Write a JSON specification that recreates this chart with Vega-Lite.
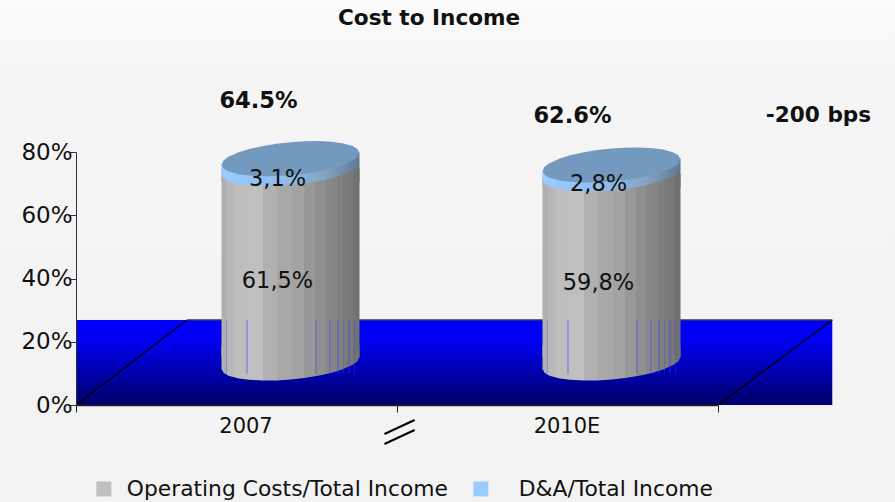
{
  "$schema": "https://vega.github.io/schema/vega-lite/v6.json",
  "width": 642,
  "height": 253,
  "autosize": "none",
  "padding": {"left": 76, "top": 152, "right": 177, "bottom": 97},
  "background": "#f3f3f3",
  "config": {"font": "DejaVu Sans", "view": {"stroke": null}},
  "datasets": {
    "costs": [
      {"period": "2007", "series": "Operating Costs/Total Income", "value": 61.5, "label": "61,5%"},
      {"period": "2007", "series": "D&A/Total Income", "value": 3.1, "label": "3,1%"},
      {"period": "2010E", "series": "Operating Costs/Total Income", "value": 59.8, "label": "59,8%"},
      {"period": "2010E", "series": "D&A/Total Income", "value": 2.8, "label": "2,8%"}
    ],
    "backdrop": [{"left": -0.237, "right": 2.551, "bottom": -30.67, "top": 128.06}],
    "heading": [{"x": 1.1, "level": 122.1, "text": "Cost to Income"}],
    "floor": [{"left": 0, "right": 2.356, "bottom": 0, "top": 26.9}],
    "floorEdges": [
      {"x": 0, "x2": 0.346, "y": 0, "y2": 26.9},
      {"x": 2, "x2": 2.356, "y": 0, "y2": 26.9}
    ],
    "floorBack": [{"x": 0.346, "x2": 2.356, "y": 26.9}],
    "axisBreak": [
      {"x": 0.961, "x2": 1.055, "y": -9.17, "y2": -4.74},
      {"x": 0.961, "x2": 1.055, "y": -12.33, "y2": -7.9}
    ],
    "seams": [
      {"period": "2007", "top": 26.9, "low": 10},
      {"period": "2010E", "top": 26.9, "low": 10}
    ],
    "totals": [
      {"period": "2007", "text": "64.5%", "level": 96},
      {"period": "2010E", "text": "62.6%", "level": 91.3}
    ],
    "delta": [{"period": "2010E", "text": "-200 bps", "level": 91.3}]
  },
  "resolve": {"scale": {"x": "independent"}},
  "layer": [
    {
      "layer": [
        {
          "data": {"name": "backdrop"},
          "mark": {
            "type": "rect",
            "fill": {
              "gradient": "linear", "x1": 0, "y1": 0, "x2": 0, "y2": 1,
              "stops": [
                {"offset": 0, "color": "#fbfbfb"},
                {"offset": 0.15, "color": "#f5f5f5"},
                {"offset": 1, "color": "#f2f2f2"}
              ]
            }
          },
          "encoding": {
            "x": {"field": "left", "type": "quantitative", "scale": {"domain": [0, 2]}, "axis": null},
            "x2": {"field": "right"},
            "y": {
              "field": "top", "type": "quantitative",
              "scale": {"domain": [0, 80]},
              "axis": {
                "title": null, "values": [0, 20, 40, 60, 80],
                "labelExpr": "datum.value + '%'",
                "grid": false, "zindex": 1,
                "domainColor": "#333333", "tickColor": "#333333",
                "tickSize": 7, "labelPadding": -3,
                "labelFontSize": 23, "labelColor": "#111111"
              }
            },
            "y2": {"field": "bottom"}
          }
        },
        {
          "data": {"name": "heading"},
          "mark": {"type": "text", "fontSize": 21.6, "fontWeight": "bold", "color": "#111111"},
          "encoding": {
            "x": {"field": "x", "type": "quantitative", "axis": null},
            "y": {"field": "level", "type": "quantitative"},
            "text": {"field": "text"}
          }
        },
        {
          "data": {"name": "floor"},
          "mark": {
            "type": "rect",
            "fill": {
              "gradient": "linear", "x1": 0, "y1": 0, "x2": 0, "y2": 1,
              "stops": [
                {"offset": 0, "color": "#0000ff"},
                {"offset": 0.25, "color": "#0000f0"},
                {"offset": 1, "color": "#000068"}
              ]
            }
          },
          "encoding": {
            "x": {"field": "left", "type": "quantitative", "axis": null},
            "x2": {"field": "right"},
            "y": {"field": "top", "type": "quantitative"},
            "y2": {"field": "bottom"}
          }
        },
        {
          "data": {"name": "floorEdges"},
          "mark": {"type": "rule", "color": "#000000", "strokeWidth": 1.2},
          "encoding": {
            "x": {"field": "x", "type": "quantitative", "axis": null},
            "x2": {"field": "x2"},
            "y": {"field": "y", "type": "quantitative"},
            "y2": {"field": "y2"}
          }
        },
        {
          "data": {"name": "floorBack"},
          "mark": {"type": "rule", "color": "#333355", "strokeWidth": 1.5},
          "encoding": {
            "x": {"field": "x", "type": "quantitative", "axis": null},
            "x2": {"field": "x2"},
            "y": {"field": "y", "type": "quantitative"}
          }
        },
        {
          "data": {"name": "axisBreak"},
          "mark": {"type": "rule", "color": "#000000", "strokeWidth": 2},
          "encoding": {
            "x": {"field": "x", "type": "quantitative", "axis": null},
            "x2": {"field": "x2"},
            "y": {"field": "y", "type": "quantitative"},
            "y2": {"field": "y2"}
          }
        }
      ]
    },
    {
      "encoding": {
        "x": {
          "field": "period", "type": "nominal",
          "scale": {"type": "band", "paddingInner": 0, "paddingOuter": 0, "domain": ["2007", "2010E"]},
          "axis": {
            "title": null, "labelAngle": 0, "tickBand": "extent", "zindex": 1,
            "domainColor": "#222222", "domainWidth": 1.5, "tickColor": "#222222", "tickSize": 7,
            "labelFontSize": 21, "labelPadding": 3, "labelColor": "#111111", "labelOffset": 9
          }
        }
      },
      "layer": [
        {
          "data": {"name": "costs"},
          "transform": [
            {"stack": "value", "groupby": ["period"], "sort": [{"field": "series", "order": "descending"}], "as": ["y0", "y1"]},
            {"calculate": "(datum.y0 + datum.y1) / 2", "as": "mid"}
          ],
          "layer": [
            {
              "mark": {"type": "bar", "size": 100, "xOffset": 54, "yOffset": -42, "y2Offset": -42},
              "encoding": {
                "y": {"field": "y1", "type": "quantitative"},
                "y2": {"field": "y0"},
                "color": {
                  "field": "series", "type": "nominal",
                  "scale": {"domain": ["Operating Costs/Total Income", "D&A/Total Income"], "range": ["#c0c0c0", "#99ccff"]},
                  "legend": {
                    "title": null, "orient": "none", "legendX": 17, "legendY": 326,
                    "direction": "horizontal", "columns": 2, "columnPadding": 22, "gridAlign": "none",
                    "symbolType": "square", "symbolSize": 225, "symbolStrokeWidth": 0, "labelOffset": 12,
                    "labelFontSize": 21.8, "labelColor": "#111111", "labelLimit": 400,
                    "encode": {"labels": {"update": {"dx": {"signal": "datum.value === 'D&A/Total Income' ? 15 : 0"}}}}
                  }
                }
              }
            },
            {
              "transform": [{"filter": "datum.series === 'Operating Costs/Total Income'"}],
              "mark": {
                "type": "point", "filled": true, "opacity": 1, "size": 19044, "xOffset": 54, "yOffset": -42,
                "shape": "M-1,.087L-.97,.026L-.9,-.027L-.75,-.094L-.6,-.14L-.4,-.185L-.2,-.218L0,-.24L.2,-.252L.4,-.255L.6,-.244L.75,-.224L.9,-.183L.97,-.142L1,-.087L.97,-.026L.9,.027L.75,.094L.6,.14L.4,.185L.2,.218L0,.24L-.2,.252L-.4,.255L-.6,.244L-.75,.224L-.9,.183L-.97,.142Z",
                "fill": {
                  "gradient": "linear", "x1": 0, "y1": 0, "x2": 1, "y2": 0,
                  "stops": [
                    {"offset": 0, "color": "#b0b0b0"}, {"offset": 0.04, "color": "#b0b0b0"},
                    {"offset": 0.04, "color": "#b8b8b8"}, {"offset": 0.1, "color": "#b8b8b8"},
                    {"offset": 0.1, "color": "#bdbdbd"}, {"offset": 0.19, "color": "#bdbdbd"},
                    {"offset": 0.19, "color": "#bfbfbf"}, {"offset": 0.3, "color": "#bfbfbf"},
                    {"offset": 0.3, "color": "#b0b0b0"}, {"offset": 0.4, "color": "#b0b0b0"},
                    {"offset": 0.4, "color": "#a8a8a8"}, {"offset": 0.51, "color": "#a8a8a8"},
                    {"offset": 0.51, "color": "#a3a3a3"}, {"offset": 0.6, "color": "#a3a3a3"},
                    {"offset": 0.6, "color": "#989898"}, {"offset": 0.68, "color": "#989898"},
                    {"offset": 0.68, "color": "#8f8f8f"}, {"offset": 0.75, "color": "#8f8f8f"},
                    {"offset": 0.75, "color": "#888888"}, {"offset": 0.8, "color": "#888888"},
                    {"offset": 0.8, "color": "#848484"}, {"offset": 0.84, "color": "#848484"},
                    {"offset": 0.84, "color": "#808080"}, {"offset": 0.88, "color": "#808080"},
                    {"offset": 0.88, "color": "#7c7c7c"}, {"offset": 0.91, "color": "#7c7c7c"},
                    {"offset": 0.91, "color": "#787878"}, {"offset": 0.95, "color": "#787878"},
                    {"offset": 0.95, "color": "#737373"}, {"offset": 1, "color": "#707070"}
                  ]
                }
              },
              "encoding": {"y": {"field": "y0", "type": "quantitative"}}
            },
            {
              "transform": [{"filter": "datum.series === 'Operating Costs/Total Income'"}],
              "mark": {
                "type": "bar", "size": 138, "xOffset": 54, "yOffset": -42, "y2Offset": -48,
                "fill": {
                  "gradient": "linear", "x1": 0, "y1": 0, "x2": 1, "y2": 0,
                  "stops": [
                    {"offset": 0, "color": "#b0b0b0"}, {"offset": 0.04, "color": "#b0b0b0"},
                    {"offset": 0.04, "color": "#b8b8b8"}, {"offset": 0.1, "color": "#b8b8b8"},
                    {"offset": 0.1, "color": "#bdbdbd"}, {"offset": 0.19, "color": "#bdbdbd"},
                    {"offset": 0.19, "color": "#bfbfbf"}, {"offset": 0.3, "color": "#bfbfbf"},
                    {"offset": 0.3, "color": "#b0b0b0"}, {"offset": 0.4, "color": "#b0b0b0"},
                    {"offset": 0.4, "color": "#a8a8a8"}, {"offset": 0.51, "color": "#a8a8a8"},
                    {"offset": 0.51, "color": "#a3a3a3"}, {"offset": 0.6, "color": "#a3a3a3"},
                    {"offset": 0.6, "color": "#989898"}, {"offset": 0.68, "color": "#989898"},
                    {"offset": 0.68, "color": "#8f8f8f"}, {"offset": 0.75, "color": "#8f8f8f"},
                    {"offset": 0.75, "color": "#888888"}, {"offset": 0.8, "color": "#888888"},
                    {"offset": 0.8, "color": "#848484"}, {"offset": 0.84, "color": "#848484"},
                    {"offset": 0.84, "color": "#808080"}, {"offset": 0.88, "color": "#808080"},
                    {"offset": 0.88, "color": "#7c7c7c"}, {"offset": 0.91, "color": "#7c7c7c"},
                    {"offset": 0.91, "color": "#787878"}, {"offset": 0.95, "color": "#787878"},
                    {"offset": 0.95, "color": "#737373"}, {"offset": 1, "color": "#707070"}
                  ]
                }
              },
              "encoding": {
                "y": {"field": "y1", "type": "quantitative"},
                "y2": {"field": "y0"}
              }
            },
            {
              "transform": [{"filter": "datum.series === 'Operating Costs/Total Income'"}],
              "mark": {
                "type": "point", "filled": true, "opacity": 1, "size": 19044, "xOffset": 54, "yOffset": -42,
                "shape": "M-1,.087L1,-.087L1,-.25L-1,-.25Z",
                "fill": {
                  "gradient": "linear", "x1": 0, "y1": 0, "x2": 1, "y2": 0,
                  "stops": [
                    {"offset": 0, "color": "#b0b0b0"}, {"offset": 0.04, "color": "#b0b0b0"},
                    {"offset": 0.04, "color": "#b8b8b8"}, {"offset": 0.1, "color": "#b8b8b8"},
                    {"offset": 0.1, "color": "#bdbdbd"}, {"offset": 0.19, "color": "#bdbdbd"},
                    {"offset": 0.19, "color": "#bfbfbf"}, {"offset": 0.3, "color": "#bfbfbf"},
                    {"offset": 0.3, "color": "#b0b0b0"}, {"offset": 0.4, "color": "#b0b0b0"},
                    {"offset": 0.4, "color": "#a8a8a8"}, {"offset": 0.51, "color": "#a8a8a8"},
                    {"offset": 0.51, "color": "#a3a3a3"}, {"offset": 0.6, "color": "#a3a3a3"},
                    {"offset": 0.6, "color": "#989898"}, {"offset": 0.68, "color": "#989898"},
                    {"offset": 0.68, "color": "#8f8f8f"}, {"offset": 0.75, "color": "#8f8f8f"},
                    {"offset": 0.75, "color": "#888888"}, {"offset": 0.8, "color": "#888888"},
                    {"offset": 0.8, "color": "#848484"}, {"offset": 0.84, "color": "#848484"},
                    {"offset": 0.84, "color": "#808080"}, {"offset": 0.88, "color": "#808080"},
                    {"offset": 0.88, "color": "#7c7c7c"}, {"offset": 0.91, "color": "#7c7c7c"},
                    {"offset": 0.91, "color": "#787878"}, {"offset": 0.95, "color": "#787878"},
                    {"offset": 0.95, "color": "#737373"}, {"offset": 1, "color": "#707070"}
                  ]
                }
              },
              "encoding": {"y": {"field": "y0", "type": "quantitative"}}
            },
            {
              "transform": [{"filter": "datum.series === 'Operating Costs/Total Income'"}],
              "mark": {
                "type": "point", "filled": true, "opacity": 1, "size": 19044, "xOffset": 54, "yOffset": -42,
                "shape": "M-1,.087L1,-.087L1,.2L-1,.2Z",
                "fill": {
                  "gradient": "linear", "x1": 0, "y1": 0, "x2": 1, "y2": 0,
                  "stops": [
                    {"offset": 0, "color": "#b0b0b0"}, {"offset": 0.04, "color": "#b0b0b0"},
                    {"offset": 0.04, "color": "#b8b8b8"}, {"offset": 0.1, "color": "#b8b8b8"},
                    {"offset": 0.1, "color": "#bdbdbd"}, {"offset": 0.19, "color": "#bdbdbd"},
                    {"offset": 0.19, "color": "#bfbfbf"}, {"offset": 0.3, "color": "#bfbfbf"},
                    {"offset": 0.3, "color": "#b0b0b0"}, {"offset": 0.4, "color": "#b0b0b0"},
                    {"offset": 0.4, "color": "#a8a8a8"}, {"offset": 0.51, "color": "#a8a8a8"},
                    {"offset": 0.51, "color": "#a3a3a3"}, {"offset": 0.6, "color": "#a3a3a3"},
                    {"offset": 0.6, "color": "#989898"}, {"offset": 0.68, "color": "#989898"},
                    {"offset": 0.68, "color": "#8f8f8f"}, {"offset": 0.75, "color": "#8f8f8f"},
                    {"offset": 0.75, "color": "#888888"}, {"offset": 0.8, "color": "#888888"},
                    {"offset": 0.8, "color": "#848484"}, {"offset": 0.84, "color": "#848484"},
                    {"offset": 0.84, "color": "#808080"}, {"offset": 0.88, "color": "#808080"},
                    {"offset": 0.88, "color": "#7c7c7c"}, {"offset": 0.91, "color": "#7c7c7c"},
                    {"offset": 0.91, "color": "#787878"}, {"offset": 0.95, "color": "#787878"},
                    {"offset": 0.95, "color": "#737373"}, {"offset": 1, "color": "#707070"}
                  ]
                }
              },
              "encoding": {"y": {"field": "y1", "type": "quantitative"}}
            },
            {
              "transform": [{"filter": "datum.series === 'Operating Costs/Total Income'"}],
              "mark": {
                "type": "point", "filled": true, "opacity": 1, "size": 19044, "xOffset": 54, "yOffset": -42,
                "shape": "M-1,.087L-.97,.026L-.9,-.027L-.75,-.094L-.6,-.14L-.4,-.185L-.2,-.218L0,-.24L.2,-.252L.4,-.255L.6,-.244L.75,-.224L.9,-.183L.97,-.142L1,-.087L.97,-.026L.9,.027L.75,.094L.6,.14L.4,.185L.2,.218L0,.24L-.2,.252L-.4,.255L-.6,.244L-.75,.224L-.9,.183L-.97,.142Z",
                "fill": {
                  "gradient": "linear", "x1": 0, "y1": 0, "x2": 1, "y2": 0,
                  "stops": [
                    {"offset": 0, "color": "#99ccff"}, {"offset": 0.45, "color": "#8fbdec"},
                    {"offset": 0.75, "color": "#84a3c2"}, {"offset": 1, "color": "#5e7a99"}
                  ]
                }
              },
              "encoding": {"y": {"field": "y1", "type": "quantitative"}}
            },
            {
              "transform": [{"filter": "datum.series === 'D&A/Total Income'"}],
              "mark": {
                "type": "point", "filled": true, "opacity": 1, "size": 19044, "xOffset": 54, "yOffset": -42,
                "shape": "M-1,.018L1,-.156L1,-.018L-1,.156Z",
                "fill": {
                  "gradient": "linear", "x1": 0, "y1": 0, "x2": 1, "y2": 0,
                  "stops": [
                    {"offset": 0, "color": "#99ccff"}, {"offset": 0.45, "color": "#8fbdec"},
                    {"offset": 0.75, "color": "#84a3c2"}, {"offset": 1, "color": "#5e7a99"}
                  ]
                }
              },
              "encoding": {"y": {"field": "mid", "type": "quantitative"}}
            },
            {
              "transform": [{"filter": "datum.series === 'D&A/Total Income'"}],
              "mark": {
                "type": "point", "filled": true, "opacity": 1, "size": 19044, "xOffset": 54, "yOffset": -42, "color": "#7399bf",
                "shape": "M-1,.087L-.97,.026L-.9,-.027L-.75,-.094L-.6,-.14L-.4,-.185L-.2,-.218L0,-.24L.2,-.252L.4,-.255L.6,-.244L.75,-.224L.9,-.183L.97,-.142L1,-.087L.97,-.026L.9,.027L.75,.094L.6,.14L.4,.185L.2,.218L0,.24L-.2,.252L-.4,.255L-.6,.244L-.75,.224L-.9,.183L-.97,.142Z"
              },
              "encoding": {"y": {"field": "y1", "type": "quantitative"}}
            },
            {
              "mark": {"type": "text", "fontSize": 22.5, "color": "#111111", "xOffset": 41, "yOffset": -27},
              "encoding": {
                "y": {"field": "mid", "type": "quantitative"},
                "text": {"field": "label"}
              }
            }
          ]
        },
        {
          "data": {"name": "seams"},
          "mark": {
            "type": "bar", "size": 138, "xOffset": 54,
            "fill": {
              "gradient": "linear", "x1": 0, "y1": 0, "x2": 1, "y2": 0,
              "stops": [
                {"offset": 0.03, "color": "rgba(60,60,255,0)"}, {"offset": 0.03, "color": "rgba(60,60,255,0.3)"}, {"offset": 0.04, "color": "rgba(60,60,255,0.3)"}, {"offset": 0.04, "color": "rgba(60,60,255,0)"},
                {"offset": 0.18, "color": "rgba(60,60,255,0)"}, {"offset": 0.18, "color": "rgba(60,60,255,0.3)"}, {"offset": 0.19, "color": "rgba(60,60,255,0.3)"}, {"offset": 0.19, "color": "rgba(60,60,255,0)"},
                {"offset": 0.68, "color": "rgba(60,60,255,0)"}, {"offset": 0.68, "color": "rgba(60,60,255,0.3)"}, {"offset": 0.69, "color": "rgba(60,60,255,0.3)"}, {"offset": 0.69, "color": "rgba(60,60,255,0)"},
                {"offset": 0.78, "color": "rgba(60,60,255,0)"}, {"offset": 0.78, "color": "rgba(60,60,255,0.3)"}, {"offset": 0.79, "color": "rgba(60,60,255,0.3)"}, {"offset": 0.79, "color": "rgba(60,60,255,0)"},
                {"offset": 0.84, "color": "rgba(60,60,255,0)"}, {"offset": 0.84, "color": "rgba(60,60,255,0.3)"}, {"offset": 0.85, "color": "rgba(60,60,255,0.3)"}, {"offset": 0.85, "color": "rgba(60,60,255,0)"},
                {"offset": 0.88, "color": "rgba(60,60,255,0)"}, {"offset": 0.88, "color": "rgba(60,60,255,0.3)"}, {"offset": 0.89, "color": "rgba(60,60,255,0.3)"}, {"offset": 0.89, "color": "rgba(60,60,255,0)"},
                {"offset": 0.92, "color": "rgba(60,60,255,0)"}, {"offset": 0.92, "color": "rgba(60,60,255,0.3)"}, {"offset": 0.93, "color": "rgba(60,60,255,0.3)"}, {"offset": 0.93, "color": "rgba(60,60,255,0)"},
                {"offset": 0.96, "color": "rgba(60,60,255,0)"}, {"offset": 0.96, "color": "rgba(60,60,255,0.3)"}, {"offset": 0.97, "color": "rgba(60,60,255,0.3)"}, {"offset": 0.97, "color": "rgba(60,60,255,0)"}
              ]
            }
          },
          "encoding": {
            "y": {"field": "top", "type": "quantitative"},
            "y2": {"field": "low"}
          }
        },
        {
          "data": {"name": "totals"},
          "transform": [{"filter": "datum.period === '2007'"}],
          "mark": {"type": "text", "fontSize": 22.5, "fontWeight": "bold", "color": "#111111", "xOffset": 22},
          "encoding": {
            "y": {"field": "level", "type": "quantitative"},
            "text": {"field": "text"}
          }
        },
        {
          "data": {"name": "totals"},
          "transform": [{"filter": "datum.period === '2010E'"}],
          "mark": {"type": "text", "fontSize": 22.5, "fontWeight": "bold", "color": "#111111", "xOffset": 15},
          "encoding": {
            "y": {"field": "level", "type": "quantitative"},
            "text": {"field": "text"}
          }
        },
        {
          "data": {"name": "delta"},
          "mark": {"type": "text", "fontSize": 21.6, "fontWeight": "bold", "color": "#111111", "xOffset": 261},
          "encoding": {
            "y": {"field": "level", "type": "quantitative"},
            "text": {"field": "text"}
          }
        }
      ]
    }
  ]
}
